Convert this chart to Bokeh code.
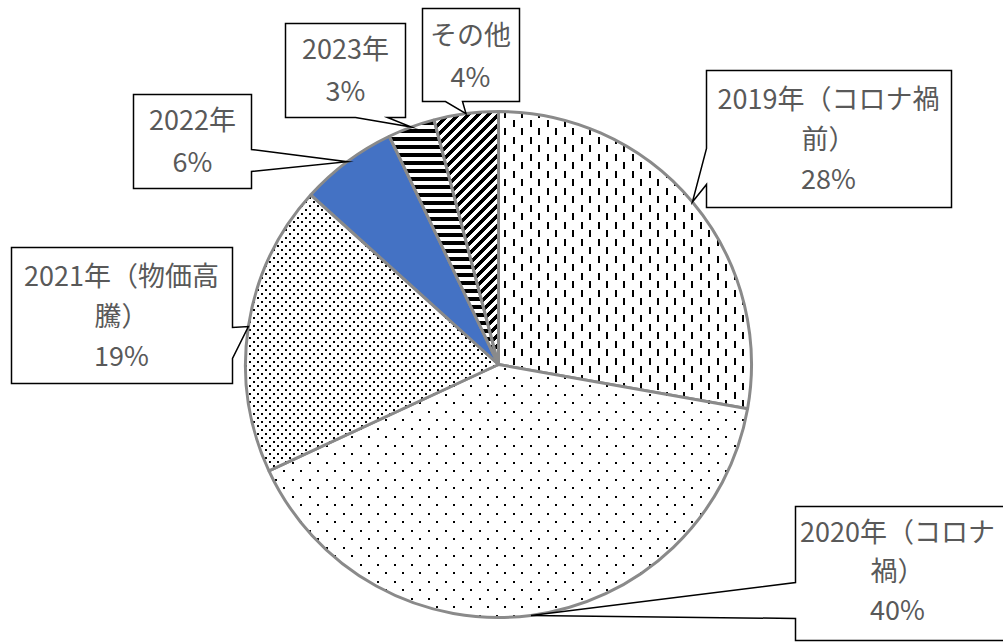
import math
import zlib
import struct
import base64
from bokeh.plotting import figure
from bokeh.models import ColumnDataSource, Range1d, ImageURLTexture
from bokeh.core.properties import value
from bokeh.embed import file_html
from bokeh.resources import INLINE

# ---------------- data ----------------
categories = ["2019年（コロナ禍前）", "2020年（コロナ禍）", "2021年（物価高騰）", "2022年", "2023年", "その他"]
shares = [27.8, 40.3, 18.6, 6.2, 3.0, 4.1]

# ---------------- styles ----------------
fill_colors = ["white", "white", "white", "#4472C4", "white", "white"]
hatch_patterns = ["vdash", "sdot", "ddot", "blank", "hline", "udiag"]


def png_url(w, h, pix):
    rows = []
    for y in range(h):
        row = b"\x00" + b"".join(
            (b"\x00\x00\x00\xff" if pix(x, y) else b"\xff\xff\xff\xff") for x in range(w))
        rows.append(row)
    raw = b"".join(rows)

    def chunk(t, d):
        return struct.pack(">I", len(d)) + t + d + struct.pack(">I", zlib.crc32(t + d) & 0xffffffff)

    data = (b"\x89PNG\r\n\x1a\n"
            + chunk(b"IHDR", struct.pack(">IIBBBBB", w, h, 8, 6, 0, 0, 0))
            + chunk(b"IDAT", zlib.compress(raw))
            + chunk(b"IEND", b""))
    return "data:image/png;base64," + base64.b64encode(data).decode()


ddot_pts = [(0, 0), (8, 0), (4, 4), (12, 4), (0, 8), (8, 8), (4, 12), (12, 12)]

textures = {
    "vdash": ImageURLTexture(repetition="repeat", url=png_url(
        17, 17, lambda x, y: (x in (3, 4) and 1 <= y <= 7) or (x in (11, 12) and 9 <= y <= 15))),
    "sdot": ImageURLTexture(repetition="repeat", url=png_url(
        17, 17, lambda x, y: (x in (3, 4) and y in (3, 4)) or (x in (11, 12) and y in (11, 12)))),
    "ddot": ImageURLTexture(repetition="repeat", url=png_url(
        16, 16, lambda x, y: any(px + 1 <= x <= px + 2 and py + 1 <= y <= py + 2 for px, py in ddot_pts))),
    "hline": ImageURLTexture(repetition="repeat", url=png_url(
        16, 16, lambda x, y: (1 <= y <= 4) or (9 <= y <= 12))),
    "udiag": ImageURLTexture(repetition="repeat", url=png_url(
        20, 20, lambda x, y: ((x + y) % 10) < 5)),
}

# layout in screen pixels (window coordinates)
W, H = 1003, 642
CX, CY, R = 498, 364, 253
callouts = [
    dict(box=(706, 70, 951, 207), side="left", base=(148, 184), cx=828, y0=97, dy=40, wrap=10),
    dict(box=(795, 506, 1012, 640), side="left", base=(582, 618), cx=897, y0=530, dy=39, wrap=9),
    dict(box=(11, 247, 232, 383), side="right", base=(327, 358), cx=121, y0=274, dy=40, wrap=9),
    dict(box=(133, 94, 251, 188), side="right", base=(149, 171), cx=192, y0=118, dy=42, wrap=None),
    dict(box=(285, 23, 405, 117), side="bottom", base=(355, 387), cx=345, y0=47, dy=42, wrap=None),
    dict(box=(422, 8, 519, 101), side="bottom", base=(445, 462), cx=470, y0=33, dy=42, wrap=None),
]


def Y(sy):
    return H - sy


p = figure(width=W, height=H, output_backend="svg", toolbar_location=None,
           x_range=Range1d(0, W), y_range=Range1d(0, H),
           x_axis_type=None, y_axis_type=None, min_border=0)
p.grid.visible = False
p.outline_line_color = None
p.background_fill_color = "white"
p.border_fill_color = "white"

total = sum(shares)
starts, ends, mids = [], [], []
cum = 0.0
for v in shares:
    a0 = 360.0 * cum / total
    cum += v
    a1 = 360.0 * cum / total
    starts.append(math.radians(90 - a1))
    ends.append(math.radians(90 - a0))
    mids.append((a0 + a1) / 2)

src = ColumnDataSource(dict(
    x=[CX] * len(shares), y=[Y(CY)] * len(shares),
    start=starts, end=ends, fill=fill_colors,
    hp=hatch_patterns, cat=categories,
))
p.wedge(x="x", y="y", radius=R, start_angle="start", end_angle="end", source=src,
        fill_color="fill", line_color="#8a8a8a", line_width=3,
        hatch_pattern="hp", hatch_color="black", hatch_extra=textures)

# callouts
xs, ys = [], []
tx, ty, tt = [], [], []
for i, c in enumerate(callouts):
    x0, y0, x1, y1 = c["box"]
    m = math.radians(mids[i])
    tipx = CX + R * math.sin(m)
    tipy = CY - R * math.cos(m)
    b0, b1 = c["base"]
    if c["side"] == "left":
        pts = [(x0, y0), (x0, b0), (tipx, tipy), (x0, b1), (x0, y1), (x1, y1), (x1, y0)]
    elif c["side"] == "right":
        pts = [(x0, y0), (x1, y0), (x1, b0), (tipx, tipy), (x1, b1), (x1, y1), (x0, y1)]
    else:
        pts = [(x0, y0), (x1, y0), (x1, y1), (b1, y1), (tipx, tipy), (b0, y1), (x0, y1)]
    xs.append([q[0] for q in pts])
    ys.append([Y(q[1]) for q in pts])

    name = categories[i]
    if c["wrap"]:
        lines = [name[:c["wrap"]], name[c["wrap"]:]]
    else:
        lines = [name]
    lines.append(f"{round(shares[i])}%")
    for k, ln in enumerate(lines):
        tx.append(c["cx"])
        ty.append(Y(c["y0"] + k * c["dy"]))
        tt.append(ln)

p.patches(xs=xs, ys=ys, fill_color="white", line_color="black", line_width=1.5, line_join="miter")
p.text(x=tx, y=ty, text=tt, text_font=value("Noto Sans CJK JP"), text_font_size="27px",
       text_color="#595959", text_align="center", text_baseline="middle")

open("out.html", "w").write(file_html(p, INLINE))
